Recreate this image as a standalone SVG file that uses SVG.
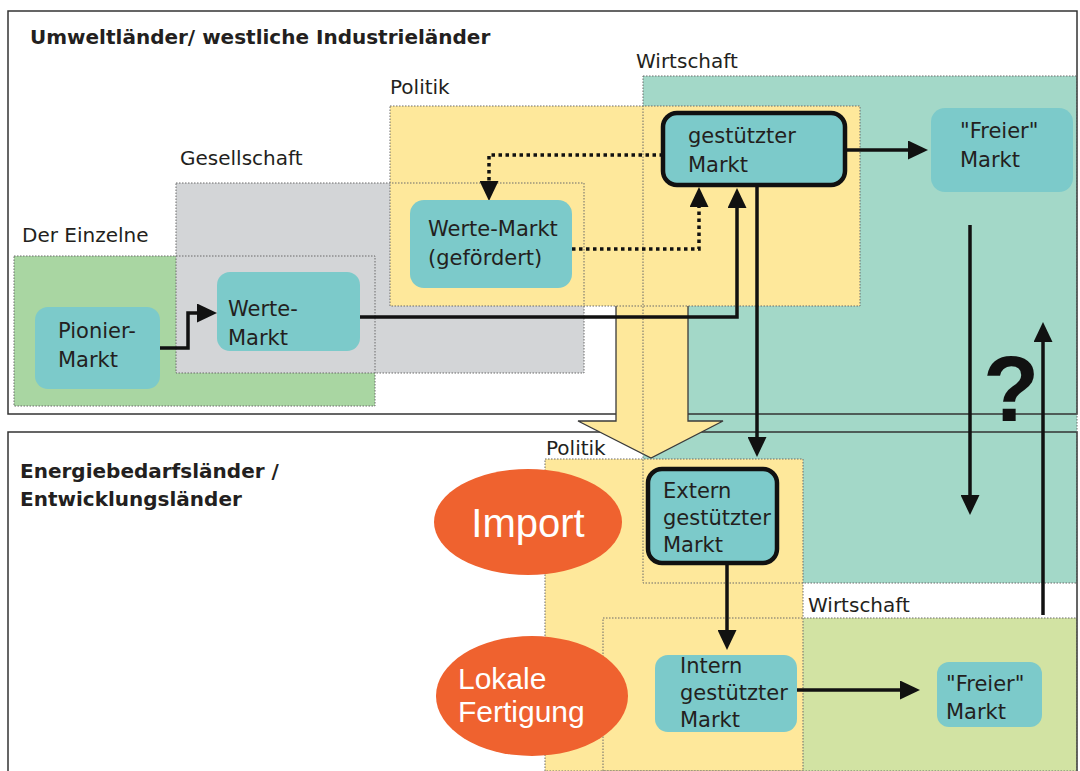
<svg xmlns="http://www.w3.org/2000/svg" width="1080" height="771" viewBox="0 0 1080 771">
<defs>
<marker id="ah" markerUnits="userSpaceOnUse" markerWidth="20" markerHeight="19" refX="0" refY="9.5" orient="auto">
<path d="M0,0 L20,9.5 L0,19 z" fill="#111"/>
</marker>
<style>
.lbl{font-family:"DejaVu Sans","Liberation Sans",sans-serif;font-size:20px;fill:#231f20}
.hd{font-family:"DejaVu Sans","Liberation Sans",sans-serif;font-size:20px;font-weight:bold;fill:#231f20}
.nt{font-family:"DejaVu Sans","Liberation Sans",sans-serif;font-size:21px;fill:#231f20}
.ot{font-family:"Liberation Sans","DejaVu Sans",sans-serif;fill:#fff}
.rb{fill:none;stroke:#6a6a6a;stroke-width:1;stroke-dasharray:1.5 1.5}
.node{fill:#7ccaca}
.strong{fill:#7ccaca;stroke:#111;stroke-width:4.5}
.con{fill:none;stroke:#111;stroke-width:3.5;marker-end:url(#ah)}
.dot{fill:none;stroke:#111;stroke-width:3.5;stroke-dasharray:3.5 3.5;marker-end:url(#ah)}
.frame{fill:none;stroke:#333;stroke-width:1.5}
</style>
</defs>
<rect x="0" y="0" width="1080" height="771" fill="#fff"/>

<g id="regions">
<rect x="14" y="256" width="361" height="150" fill="#a9d6a2"/>
<rect x="176" y="183" width="408" height="190" fill="#d3d5d7"/>
<rect x="643" y="76" width="434" height="507" fill="#a3d8c8"/>
<rect x="390" y="106" width="470" height="200" fill="#fee89b"/>
<rect x="603" y="618" width="474" height="153" fill="#d2e3a3"/>
<rect x="545" y="459" width="258" height="312" fill="#fee89b"/>
</g>

<g id="frame">
<rect class="frame" x="8" y="11" width="1069" height="403"/>
<polyline class="frame" points="8,771 8,432 1077,432 1077,771"/>
</g>

<g id="block-arrow">
<polygon points="616,306 616,421 578,421 651,458 723,421 688,421 688,306" fill="#fee89b"/>
<polyline points="616,306 616,421 578,421 651,458 723,421 688,421 688,306" fill="none" stroke="#3a3a3a" stroke-width="1.3"/>
</g>

<g id="region-borders">
<rect class="rb" x="14" y="256" width="361" height="150"/>
<rect class="rb" x="176" y="183" width="408" height="190"/>
<rect class="rb" x="643" y="76" width="434" height="507"/>
<rect class="rb" x="390" y="106" width="470" height="200"/>
<rect class="rb" x="603" y="618" width="474" height="153"/>
<rect class="rb" x="545" y="459" width="258" height="312"/>
</g>

<g id="connectors">
<path class="con" d="M160,348 H188 V313 H197"/>
<path class="con" d="M360,317 H737 V208"/>
<path class="dot" d="M663,155 H489 V181"/>
<path class="dot" d="M572,249 H699 V207"/>
<path class="con" d="M757,185 V437"/>
<path class="con" d="M845,150 H908"/>
<path class="con" d="M970,225 V495"/>
<path class="con" d="M1043,615 V342"/>
<path class="con" d="M727,563 V630"/>
<path class="con" d="M797,690 H900"/>
</g>

<g id="node-pionier">
<rect class="node" x="35" y="307" width="125" height="82" rx="13"/>
<text class="nt" x="58" y="338">Pionier-</text>
<text class="nt" x="58" y="367">Markt</text>
</g>
<g id="node-werte">
<rect class="node" x="217" y="272" width="143" height="79" rx="13"/>
<text class="nt" x="228" y="316">Werte-</text>
<text class="nt" x="228" y="345">Markt</text>
</g>
<g id="node-werte-gefoerdert">
<rect class="node" x="410" y="200" width="162" height="88" rx="14"/>
<text class="nt" x="428" y="236">Werte-Markt</text>
<text class="nt" x="428" y="265">(gefördert)</text>
</g>
<g id="node-gestuetzt">
<rect class="strong" x="663" y="113" width="182" height="72" rx="14"/>
<text class="nt" x="688" y="143">gestützter</text>
<text class="nt" x="688" y="172">Markt</text>
</g>
<g id="node-freier-top">
<rect class="node" x="931" y="108" width="142" height="84" rx="14"/>
<text class="nt" x="960" y="138">"Freier"</text>
<text class="nt" x="960" y="167">Markt</text>
</g>
<g id="node-extern">
<rect class="strong" x="648" y="469" width="129" height="94" rx="14"/>
<text class="nt" x="663" y="498">Extern</text>
<text class="nt" x="663" y="525">gestützter</text>
<text class="nt" x="663" y="552">Markt</text>
</g>
<g id="node-intern">
<rect class="node" x="655" y="655" width="142" height="77" rx="13"/>
<text class="nt" x="680" y="673">Intern</text>
<text class="nt" x="680" y="700">gestützter</text>
<text class="nt" x="680" y="727">Markt</text>
</g>
<g id="node-freier-bottom">
<rect class="node" x="937" y="662" width="105" height="65" rx="12"/>
<text class="nt" x="946" y="691">"Freier"</text>
<text class="nt" x="946" y="719">Markt</text>
</g>
<g id="node-import">
<ellipse cx="528" cy="522" rx="94" ry="53" fill="#ef622f"/>
<text class="ot" x="528" y="537" font-size="40" text-anchor="middle">Import</text>
</g>
<g id="node-lokale">
<ellipse cx="532" cy="696" rx="96" ry="60" fill="#ef622f"/>
<text class="ot" x="458" y="689" font-size="30">Lokale</text>
<text class="ot" x="458" y="722" font-size="30">Fertigung</text>
</g>

<g id="labels">
<text class="hd" x="30" y="44">Umweltländer/ westliche Industrieländer</text>
<text class="lbl" x="636" y="68">Wirtschaft</text>
<text class="lbl" x="390" y="94">Politik</text>
<text class="lbl" x="180" y="165">Gesellschaft</text>
<text class="lbl" x="22" y="242">Der Einzelne</text>
<text class="hd" x="20" y="478">Energiebedarfsländer /</text>
<text class="hd" x="20" y="506">Entwicklungsländer</text>
<text class="lbl" x="546" y="455">Politik</text>
<text class="lbl" x="808" y="612">Wirtschaft</text>
<text x="1011" y="421" font-family="Liberation Sans, DejaVu Sans, sans-serif" font-size="92" font-weight="bold" fill="#111" text-anchor="middle">?</text>
</g>
</svg>
